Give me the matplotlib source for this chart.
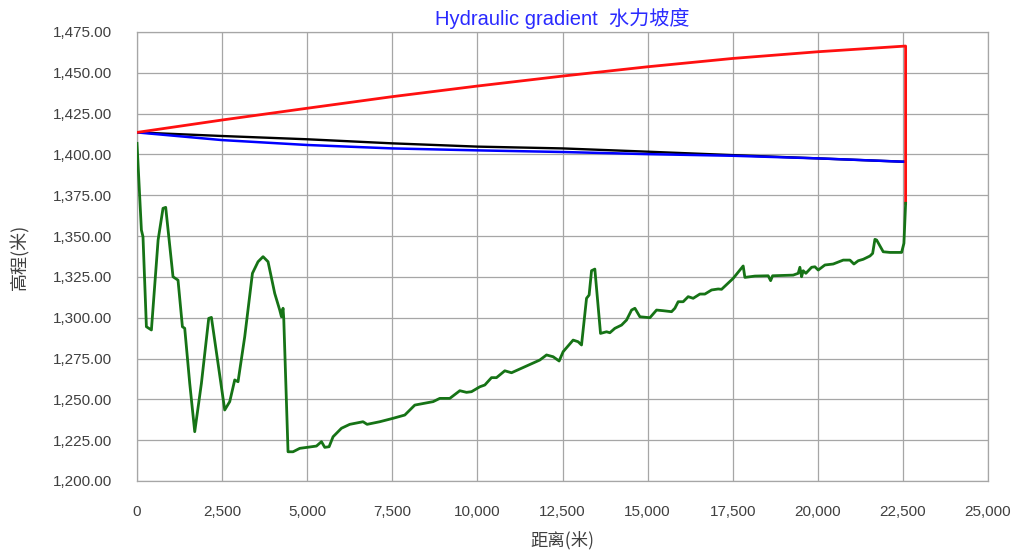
import matplotlib
matplotlib.use("Agg")
import matplotlib.pyplot as plt
from matplotlib.ticker import FuncFormatter, MultipleLocator
from matplotlib import font_manager

# ---- data ----
line_x = [0, 2500, 5000, 7500, 10000, 12500, 15000, 17500, 20000, 22580]
red_y = [1413.5, 1421.1, 1428.3, 1435.4, 1441.9, 1448.0, 1453.7, 1458.8, 1462.9, 1466.4]
red_drop_y = 1370.0
black_y = [1413.5, 1411.3, 1409.3, 1406.8, 1404.8, 1403.7, 1401.7, 1399.6, 1397.6, 1395.5]
blue_y = [1413.5, 1408.8, 1405.8, 1403.7, 1402.5, 1401.5, 1400.2, 1399.2, 1397.6, 1395.5]

ground_x = [0, 129, 176, 276, 423, 620, 764, 843, 1058, 1205, 1334, 1402, 1549, 1696,
            1892, 2107, 2186, 2380, 2577, 2724, 2871, 2968, 3165, 3391, 3556, 3703,
            3850, 4046, 4193, 4243, 4290, 4311, 4437, 4584, 4781, 5272, 5419, 5516,
            5643, 5760, 6006, 6250, 6641, 6759, 7132, 7523, 7867, 8161, 8699, 8895,
            9189, 9483, 9680, 9827, 10071, 10218, 10414, 10561, 10805, 11002, 11834,
            12031, 12225, 12401, 12519, 12812, 12959, 13059, 13206, 13282, 13353,
            13450, 13617, 13794, 13891, 14038, 14235, 14382, 14529, 14627, 14773,
            15067, 15263, 15457, 15704, 15801, 15898, 16045, 16192, 16339, 16536,
            16683, 16880, 17074, 17173, 17514, 17808, 17858, 18152, 18543, 18614,
            18672, 19277, 19424, 19474, 19524, 19571, 19650, 19818, 19915, 20012,
            20209, 20453, 20747, 20944, 21061, 21188, 21335, 21532, 21611, 21678,
            21728, 21922, 22119, 22462, 22530, 22580]
ground_y = [1406.8, 1353.7, 1349.6, 1294.5, 1292.5, 1347.6, 1367.0, 1367.6, 1325.1,
            1323.0, 1294.5, 1293.5, 1259.8, 1230.2, 1259.8, 1299.6, 1300.2, 1272.1,
            1243.5, 1248.6, 1261.9, 1260.8, 1288.4, 1327.2, 1334.3, 1337.4, 1334.3,
            1314.9, 1304.7, 1300.6, 1305.8, 1299.6, 1217.9, 1217.9, 1220.0, 1221.4,
            1224.1, 1220.6, 1221.0, 1227.1, 1232.3, 1234.7, 1236.3, 1234.7, 1236.3,
            1238.4, 1240.4, 1246.5, 1248.6, 1250.6, 1250.6, 1255.3, 1254.3, 1254.7,
            1257.7, 1258.8, 1263.3, 1263.3, 1267.5, 1266.3, 1274.1, 1277.2, 1276.1,
            1273.5, 1279.2, 1286.3, 1285.3, 1283.3, 1311.9, 1313.9, 1328.8, 1329.8,
            1290.4, 1291.4, 1290.8, 1293.5, 1295.5, 1298.6, 1304.7, 1305.8, 1300.6,
            1300.0, 1304.7, 1304.3, 1303.7, 1305.8, 1309.8, 1309.8, 1312.9, 1311.9,
            1314.5, 1314.5, 1317.0, 1317.6, 1317.4, 1324.1, 1331.7, 1324.7, 1325.5,
            1325.7, 1322.7, 1325.7, 1326.1, 1327.2, 1330.9, 1325.1, 1328.8, 1327.2,
            1330.9, 1331.2, 1329.2, 1332.3, 1332.9, 1335.3, 1335.3, 1332.9, 1334.9,
            1335.8, 1337.8, 1339.4, 1348.0, 1347.6, 1340.4, 1340.0, 1340.0, 1345.6,
            1370.1]

title_text = "Hydraulic gradient  水力坡度"
xlabel_text = "距离(米)"
ylabel_text = "高程(米)"

# ---- fonts ----
avail = {f.name for f in font_manager.fontManager.ttflist}
narrow = "Liberation Sans Narrow" if "Liberation Sans Narrow" in avail else "Liberation Sans"
fam = [narrow, "Noto Sans CJK SC", "DejaVu Sans"]
cjk = ["Noto Sans CJK SC", "DejaVu Sans"]
plt.rcParams["font.family"] = fam

fig = plt.figure(figsize=(10.14, 5.53), dpi=100)
ax = fig.add_axes([137 / 1014, 1 - 481 / 553, (988 - 137) / 1014, (481 - 32) / 553])

ax.plot(line_x, black_y, color="black", lw=1.7, zorder=3)
ax.plot(line_x, blue_y, color="#0000ff", lw=1.8, zorder=4)
ax.plot(line_x + [line_x[-1]], red_y + [red_drop_y], color="#ff1010", lw=2.0, zorder=5)
ax.plot(ground_x, ground_y, color="#167316", lw=2.0, zorder=6)

ax.set_xlim(0, 25000)
ax.set_ylim(1200, 1475)
ax.xaxis.set_major_locator(MultipleLocator(2500))
ax.yaxis.set_major_locator(MultipleLocator(25))
ax.xaxis.set_major_formatter(FuncFormatter(lambda v, p: f"{v:,.0f}"))
ax.yaxis.set_major_formatter(FuncFormatter(lambda v, p: f"{v:,.2f}"))
ax.grid(True, color="#a6a6a6", lw=0.9)
ax.set_axisbelow(True)
for s in ax.spines.values():
    s.set_color("#a6a6a6")
    s.set_linewidth(0.9)
ax.tick_params(axis="y", length=0, pad=18, labelsize=11, labelcolor="#404040")
ax.tick_params(axis="x", length=0, pad=17, labelsize=11, labelcolor="#404040")

fig.text(562 / 1014, 1 - 18 / 553, title_text, ha="center", va="center",
         color="#2a2aff", fontsize=14.5, family=fam)
fig.text(562 / 1014, 1 - 540 / 553, xlabel_text, ha="center", va="center",
         color="#404040", fontsize=12.5, family=cjk)
fig.text(20 / 1014, 1 - 257 / 553, ylabel_text, ha="center", va="center",
         rotation=90, color="#404040", fontsize=13, family=cjk)

fig.savefig("out.png", dpi=100)
